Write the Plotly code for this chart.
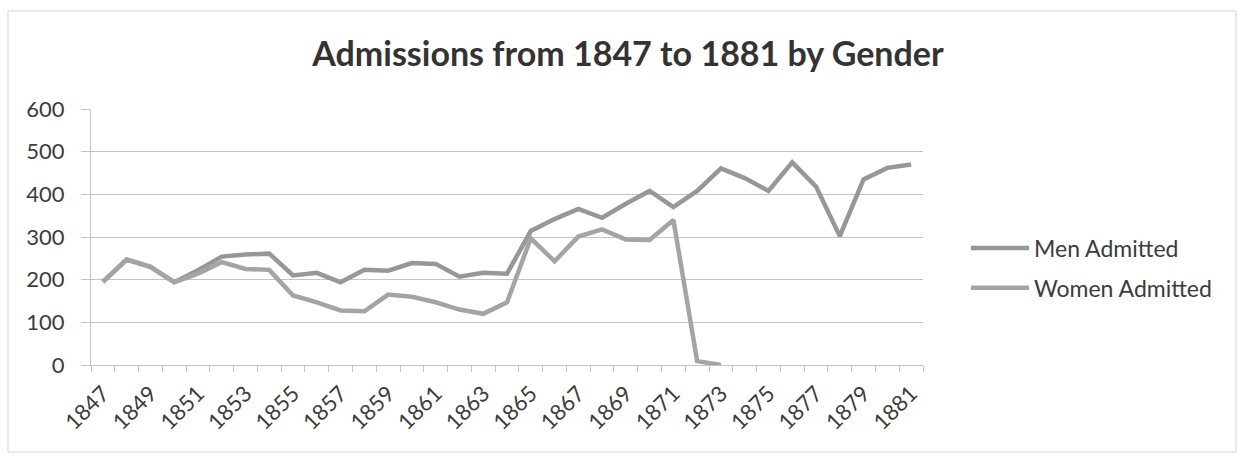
import plotly.graph_objects as go

# Yearly admissions by gender
years = list(range(1847, 1882))
men_admitted = [195, 247, 230, 194, 222, 254, 259, 261, 210, 216,
                194, 223, 221, 239, 237, 207, 216, 214, 314, 342,
                366, 345, 378, 408, 370, 408, 461, 438, 408, 475,
                418, 302, 435, 462, 470]
women_admitted = [195, 247, 230, 194, 214, 241, 225, 223, 163, 147,
                  128, 126, 165, 160, 147, 130, 120, 147, 297, 243,
                  301, 318, 294, 293, 340, 9, 0, None, None, None,
                  None, None, None, None, None]
y_ticks = [0, 100, 200, 300, 400, 500, 600]
x_ticks = years[::2]

W, H = 1241, 457
ML, MR, MT, MB = 91, 318, 109, 92
PW, PH = W - ML - MR, H - MT - MB

FONT = "Lato"
TXT = "#3c3c3c"
GRID = "#c4c4c4"


def px_x(px):
    return (px - ML) / PW


def px_y(py):
    return (H - MB - py) / PH


fig = go.Figure()
fig.add_trace(go.Scatter(
    x=years, y=men_admitted, name="Men Admitted", mode="lines",
    line=dict(color="#979797", width=4.5), legendgroup="m",
))
fig.add_trace(go.Scatter(
    x=years, y=women_admitted, name="Women Admitted", mode="lines",
    line=dict(color="#a4a4a4", width=4.5), legendgroup="w",
))

fig.update_layout(
    width=W, height=H,
    margin=dict(l=ML, r=MR, t=MT, b=MB),
    paper_bgcolor="white", plot_bgcolor="white",
    font=dict(family=FONT, color=TXT),
    title=dict(
        text="<b>Admissions from 1847 to 1881 by Gender</b>",
        x=0.506, xanchor="center", xref="container",
        y=1 - 54 / H, yanchor="middle", yref="container",
        font=dict(size=34, color="#333333", family=FONT),
    ),
    legend=dict(
        x=px_x(966), xanchor="left", y=px_y(268), yanchor="middle",
        font=dict(size=23, color=TXT, family=FONT),
        traceorder="grouped", tracegroupgap=7, itemwidth=58,
        bgcolor="rgba(0,0,0,0)",
    ),
    showlegend=True,
)

fig.update_xaxes(
    range=[years[0] - 0.5, years[-1] + 0.5],
    tickmode="array", tickvals=x_ticks, ticktext=[str(v) for v in x_ticks],
    tickangle=-45, tickfont=dict(size=22, color=TXT),
    ticks="", ticklabelstandoff=6,
    showgrid=False, zeroline=False,
    showline=True, linecolor=GRID, linewidth=1,
    minor=dict(tick0=years[0] - 0.5, dtick=1, ticks="outside",
               ticklen=6, tickcolor=GRID, showgrid=False),
)
fig.update_yaxes(
    range=[0, 600], tickmode="array", tickvals=y_ticks,
    tickfont=dict(size=22, color=TXT),
    ticks="outside", ticklen=9, tickcolor=GRID, ticklabelstandoff=12,
    showgrid=True, gridcolor=GRID, gridwidth=1,
    zeroline=False, showline=True, linecolor=GRID, linewidth=1,
)

# Chart frame
fig.add_shape(
    type="rect", xref="paper", yref="paper",
    x0=px_x(8), x1=px_x(1236), y0=px_y(452), y1=px_y(11),
    line=dict(color="#d4d4d4", width=1), fillcolor="rgba(0,0,0,0)",
    layer="below",
)

fig.write_html("out.html")
